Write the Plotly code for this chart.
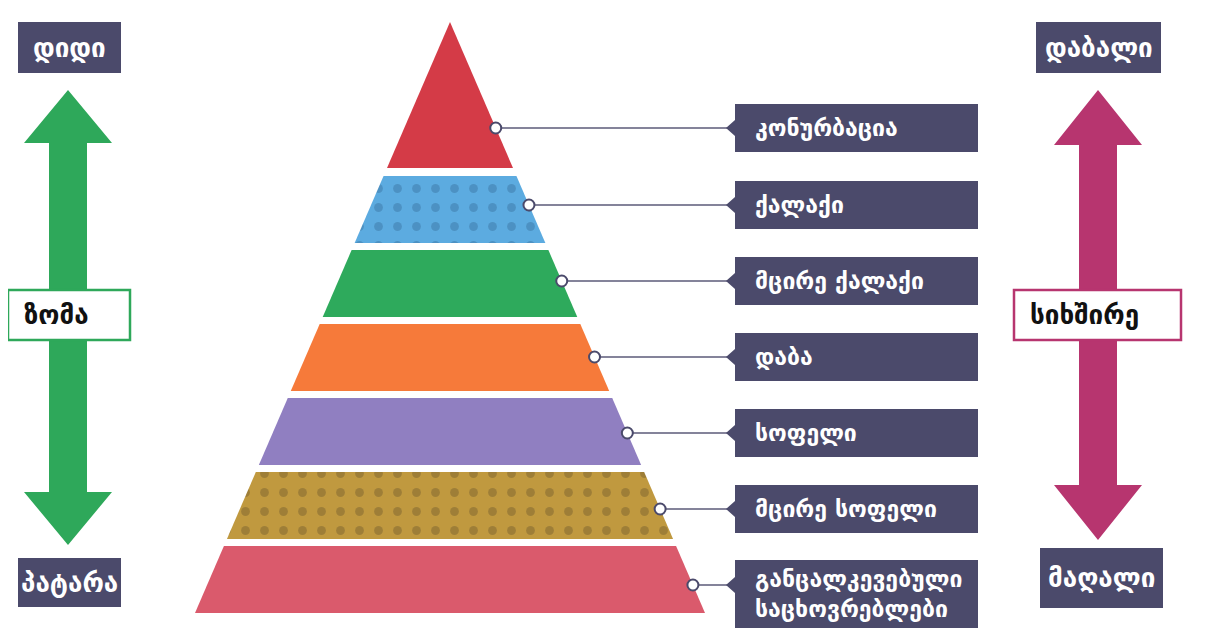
import plotly.graph_objects as go

# ---- data ----
levels = ["კონურბაცია", "ქალაქი", "მცირე ქალაქი", "დაბა", "სოფელი",
          "მცირე სოფელი", "განცალკევებული<br>საცხოვრებლები"]
band_colors = ["#d43b47", "#5cabe0", "#2eaa5c", "#f67a3a", "#907fc1", "#c0993f", "#da5a6c"]
dot_colors = [None, "#3b78a6", None, None, None, "#7b6430", None]
size_labels = ["დიდი", "ზომა", "პატარა"]
freq_labels = ["დაბალი", "სიხშირე", "მაღალი"]

W, H = 1221, 639
OFF = 8  # page body margin
NAVY = "#4b4a6b"
GREEN = "#2ea85a"
MAGENTA = "#b7356f"
FONT = "DejaVu Sans"

# pyramid geometry
APEX_X, APEX_Y, BASE_Y, BASE_HW = 450, 22, 613, 255
def hw(y):
    return (y - APEX_Y) / (BASE_Y - APEX_Y) * BASE_HW

band_h, gap = 67, 7
bands = [(APEX_Y, 168)]
for i in range(1, len(levels)):
    t = 176 + (i - 1) * (band_h + gap)
    bands.append((t, t + band_h))

fig = go.Figure()
shapes = []
annotations = []

for i, (name, col, dcol, (t, b)) in enumerate(zip(levels, band_colors, dot_colors, bands)):
    if i == 0:
        xs = [APEX_X, APEX_X + hw(b), APEX_X - hw(b), APEX_X]
        ys = [t, b, b, t]
    else:
        xs = [APEX_X - hw(t), APEX_X + hw(t), APEX_X + hw(b), APEX_X - hw(b), APEX_X - hw(t)]
        ys = [t, t, b, b, t]
    kw = dict(x=xs, y=ys, mode="lines", fill="toself", fillcolor=col,
              line=dict(width=0), hoverinfo="skip", showlegend=False)
    if dcol:
        kw["fillpattern"] = dict(shape=".", bgcolor=col, fgcolor=dcol, size=19, solidity=0.17)
    fig.add_trace(go.Scatter(**kw))

    # connector
    last = i == len(levels) - 1
    ay = b - 40 + 2 * i
    ax = APEX_X + hw(ay)
    box_l, box_r = 735, 978
    bh = 48 if not last else 68
    by = ay if not last else ay + 9
    fig.add_trace(go.Scatter(x=[ax, box_l - 8], y=[ay, ay], mode="lines",
                             line=dict(color="#5b5a78", width=1.6),
                             hoverinfo="skip", showlegend=False))
    fig.add_trace(go.Scatter(x=[ax], y=[ay], mode="markers",
                             marker=dict(size=11, color="white", line=dict(color=NAVY, width=2)),
                             hoverinfo="skip", showlegend=False))
    shapes.append(dict(type="rect", x0=box_l, x1=box_r, y0=by - bh / 2, y1=by + bh / 2,
                       fillcolor=NAVY, line_width=0))
    shapes.append(dict(type="path",
                       path=f"M {box_l} {ay-8} L {box_l-9} {ay} L {box_l} {ay+8} Z",
                       fillcolor=NAVY, line_width=0))
    annotations.append(dict(x=box_l + 18, y=by, text="<b>" + name + "</b>", showarrow=False,
                            xanchor="left", yanchor="middle", align="left",
                            font=dict(color="white", size=23, family=FONT)))

def dbl_arrow(cx, top, bot, head_hw, shaft_hw, head_h, color):
    p = (f"M {cx} {top} L {cx+head_hw} {top+head_h} L {cx+shaft_hw} {top+head_h} "
         f"L {cx+shaft_hw} {bot-head_h} L {cx+head_hw} {bot-head_h} L {cx} {bot} "
         f"L {cx-head_hw} {bot-head_h} L {cx-shaft_hw} {bot-head_h} L {cx-shaft_hw} {top+head_h} "
         f"L {cx-head_hw} {top+head_h} Z")
    return dict(type="path", path=p, fillcolor=color, line_width=0, layer="below")

shapes.append(dbl_arrow(68, 90, 545, 44, 19, 53, GREEN))
shapes.append(dbl_arrow(1098, 90, 540, 44, 19, 55, MAGENTA))

def dark_box(x0, x1, y0, y1, text):
    shapes.append(dict(type="rect", x0=x0, x1=x1, y0=y0, y1=y1, fillcolor=NAVY, line_width=0))
    annotations.append(dict(x=(x0 + x1) / 2, y=(y0 + y1) / 2, text="<b>" + text + "</b>",
                            showarrow=False, xanchor="center", yanchor="middle",
                            font=dict(color="white", size=26, family=FONT)))

def outline_box(x0, x1, y0, y1, text, color):
    shapes.append(dict(type="rect", x0=x0, x1=x1, y0=y0, y1=y1, fillcolor="white",
                       line=dict(color=color, width=2.5)))
    annotations.append(dict(x=x0 + 14, y=(y0 + y1) / 2, text="<b>" + text + "</b>", showarrow=False,
                            xanchor="left", yanchor="middle",
                            font=dict(color="#111111", size=26, family=FONT)))

dark_box(18, 121, 22, 73, size_labels[0])
outline_box(8, 130, 290, 340, size_labels[1], GREEN)
dark_box(18, 121, 558, 607, size_labels[2])

dark_box(1036, 1161, 22, 73, freq_labels[0])
outline_box(1014, 1181, 290, 340, freq_labels[1], MAGENTA)
dark_box(1040, 1163, 548, 608, freq_labels[2])

fig.update_layout(
    width=W - OFF, height=H - OFF, margin=dict(l=0, r=0, t=0, b=0),
    paper_bgcolor="white", plot_bgcolor="rgba(0,0,0,0)",
    xaxis=dict(range=[OFF, W], visible=False, fixedrange=True),
    yaxis=dict(range=[H, OFF], visible=False, fixedrange=True),
    shapes=shapes, annotations=annotations, hovermode=False,
    font=dict(family=FONT),
)
fig.write_html("out.html")
